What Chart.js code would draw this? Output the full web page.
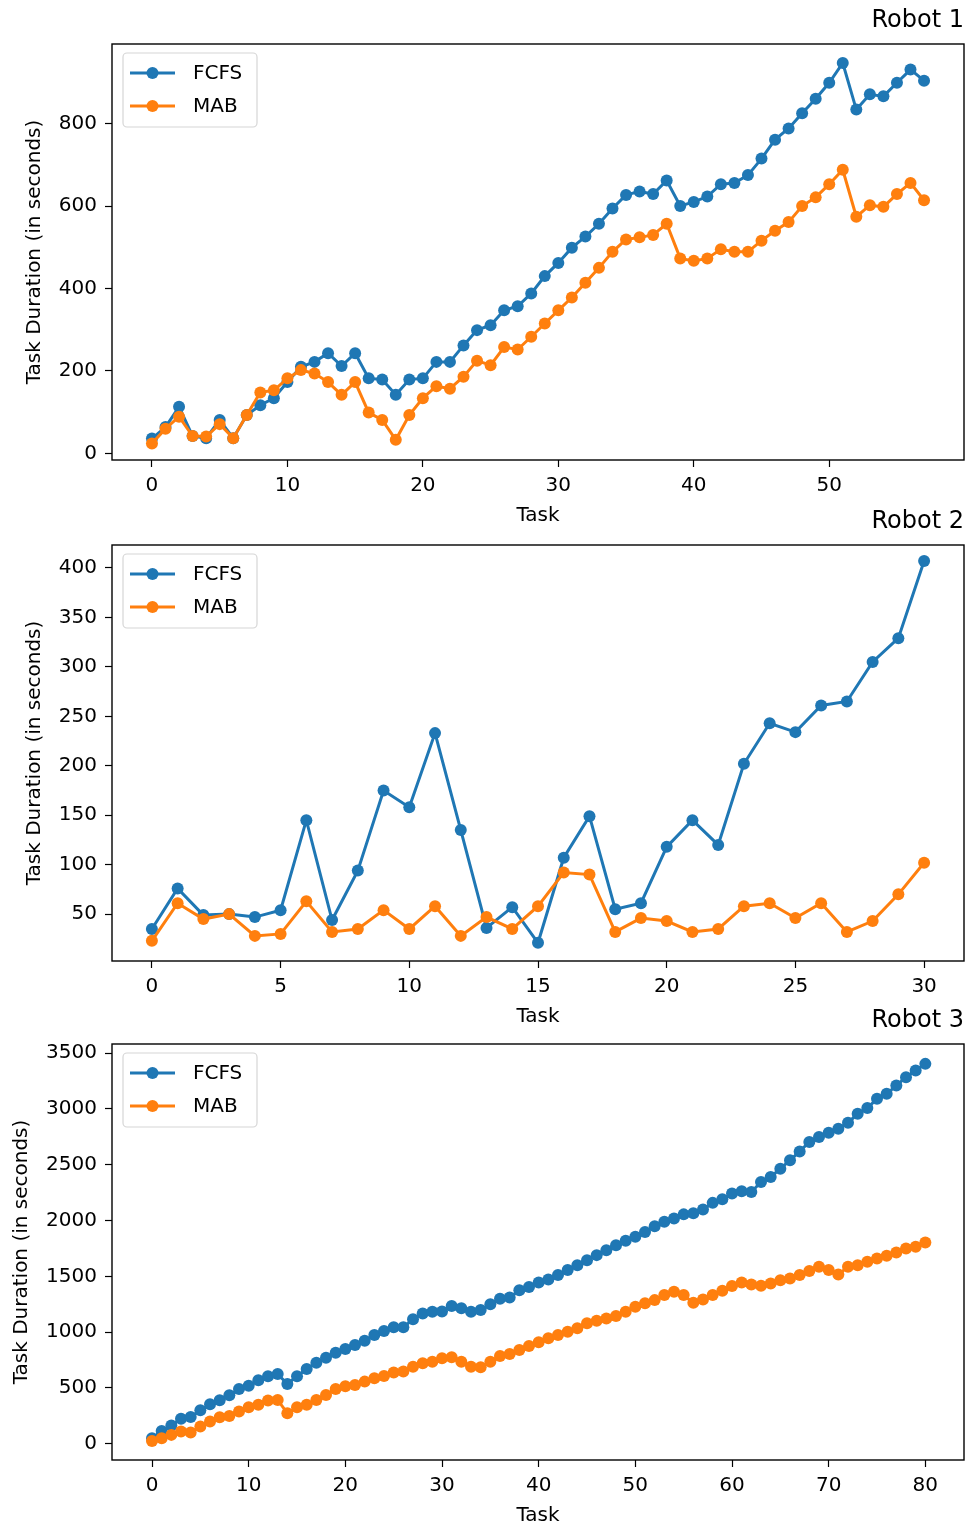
<!DOCTYPE html>
<html>
<head>
<meta charset="utf-8">
<script src="https://cdn.jsdelivr.net/npm/chart.js@4.4.0/dist/chart.umd.min.js"></script>
<style>
  html, body { margin:0; padding:0; background:#fff; }
  body { width:966px; height:1529px; position:relative; overflow:hidden; }
  canvas { position:absolute; left:0; }
</style>
</head>
<body>
<canvas id="robot1" width="966" height="535" style="top:0px"></canvas>
<canvas id="robot2" width="966" height="535" style="top:501px"></canvas>
<canvas id="robot3" width="966" height="535" style="top:1000px"></canvas>
<script>
// task durations (seconds), index = task number
const robot1Fcfs = [36, 64, 113, 42, 37, 81, 37, 93, 117, 134, 173, 210, 222, 243, 212, 243, 182, 179, 142, 179,
  182, 222, 222, 262, 299, 311, 347, 357, 388, 430, 462, 499, 526, 557, 594, 627, 635, 629, 662, 600,
  610, 623, 653, 656, 675, 715, 761, 788, 825, 860, 899, 947, 834, 871, 866, 899, 931, 904];
const robot1Mab = [24, 60, 89, 42, 41, 71, 37, 93, 148, 153, 182, 202, 194, 173, 142, 173, 99, 81, 33, 93,
  134, 163, 157, 186, 225, 214, 258, 252, 283, 315, 347, 378, 414, 450, 489, 519, 524, 530, 557, 473,
  467, 473, 495, 489, 489, 516, 540, 561, 600, 621, 653, 688, 574, 602, 598, 629, 656, 614];

const robot2Fcfs = [35, 76, 49, 50, 47, 54, 145, 44, 94, 175, 158, 233, 135, 36, 57, 21, 107, 149, 55, 61,
  118, 145, 120, 202, 243, 234, 261, 265, 305, 329, 407];
const robot2Mab = [23, 61, 45, 50, 28, 30, 63, 32, 35, 54, 35, 58, 28, 47, 35, 58, 92, 90, 32, 46,
  43, 32, 35, 58, 61, 46, 61, 32, 43, 70, 102];

const robot3Fcfs = [50, 115, 165, 225, 240, 300, 355, 390, 435, 490, 520, 570, 605, 625, 535, 605, 670, 725, 770, 815,
  850, 885, 924, 974, 1010, 1045, 1043, 1115, 1168, 1183, 1185, 1235, 1215, 1183, 1198, 1250, 1300, 1311, 1375, 1405,
  1445, 1472, 1511, 1556, 1600, 1645, 1690, 1734, 1779, 1818, 1854, 1898, 1949, 1988, 2017, 2055, 2065, 2098, 2158, 2190,
  2241, 2262, 2256, 2345, 2390, 2464, 2539, 2619, 2703, 2748, 2786, 2822, 2876, 2956, 3007, 3090, 3135, 3209, 3284, 3344,
  3403];
const robot3Mab = [25, 50, 80, 110, 101, 155, 200, 238, 250, 289, 328, 349, 387, 393, 274, 328, 349, 393, 438, 490,
  515, 527, 557, 587, 608, 638, 647, 691, 721, 736, 766, 775, 736, 691, 685, 736, 787, 805, 840, 876,
  910, 945, 974, 1004, 1034, 1079, 1103, 1123, 1144, 1183, 1228, 1258, 1287, 1332, 1362, 1332, 1263, 1293, 1332, 1371,
  1413, 1445, 1427, 1415, 1436, 1466, 1481, 1511, 1547, 1585, 1556, 1517, 1585, 1600, 1630, 1660, 1684, 1714, 1749, 1764,
  1803];

// tick labels
const robot1XTicks = [0, 10, 20, 30, 40, 50];
const robot1YTicks = [0, 200, 400, 600, 800];
const robot2XTicks = [0, 5, 10, 15, 20, 25, 30];
const robot2YTicks = [50, 100, 150, 200, 250, 300, 350, 400];
const robot3XTicks = [0, 10, 20, 30, 40, 50, 60, 70, 80];
const robot3YTicks = [0, 500, 1000, 1500, 2000, 2500, 3000, 3500];

const seriesNames = ['FCFS', 'MAB'];
const BLUE = '#1f77b4';
const ORANGE = '#ff7f0e';
const FONT = 'DejaVu Sans';

function toPoints(arr) {
  return arr.map((v, i) => ({ x: i, y: v }));
}

// matplotlib-style box around the axes
const framePlugin = {
  id: 'frame',
  afterDraw(chart) {
    const { ctx, chartArea: a } = chart;
    ctx.save();
    ctx.strokeStyle = '#000';
    ctx.lineWidth = 1.4;
    ctx.strokeRect(a.left, a.top, a.right - a.left, a.bottom - a.top);
    ctx.restore();
  }
};

// legend drawn inside the upper-left corner, like plt.legend()
const innerLegend = {
  id: 'innerLegend',
  afterDraw(chart) {
    const { ctx, chartArea: a } = chart;
    const colors = [BLUE, ORANGE];
    const bx = a.left + 11, by = a.top + 9, bw = 134, bh = 74, r = 4;
    ctx.save();
    ctx.beginPath();
    ctx.moveTo(bx + r, by);
    ctx.arcTo(bx + bw, by, bx + bw, by + bh, r);
    ctx.arcTo(bx + bw, by + bh, bx, by + bh, r);
    ctx.arcTo(bx, by + bh, bx, by, r);
    ctx.arcTo(bx, by, bx + bw, by, r);
    ctx.closePath();
    ctx.fillStyle = 'rgba(255,255,255,0.8)';
    ctx.fill();
    ctx.strokeStyle = '#d6d6d6';
    ctx.lineWidth = 1.2;
    ctx.stroke();
    seriesNames.forEach((name, i) => {
      const y = a.top + 29 + i * 33;
      ctx.strokeStyle = colors[i];
      ctx.lineWidth = 3;
      ctx.beginPath();
      ctx.moveTo(a.left + 18, y);
      ctx.lineTo(a.left + 63, y);
      ctx.stroke();
      ctx.fillStyle = colors[i];
      ctx.beginPath();
      ctx.arc(a.left + 40.5, y, 6, 0, Math.PI * 2);
      ctx.fill();
      ctx.fillStyle = '#000';
      ctx.font = '20px "' + FONT + '"';
      ctx.textBaseline = 'middle';
      ctx.textAlign = 'left';
      ctx.fillText(name, a.left + 81, y + 1);
    });
    ctx.restore();
  }
};

function axisCommon(tickValues) {
  return {
    grid: { display: true, drawOnChartArea: false, drawTicks: true, tickLength: 7, tickColor: '#000', tickWidth: 1.2 },
    border: { display: false },
    afterBuildTicks: s => { s.ticks = tickValues.map(v => ({ value: v })); }
  };
}

function drawRobot(id, title, fcfs, mab, xr, xTicks, yr, yTicks, yTitlePad) {
  const ctx = document.getElementById(id).getContext('2d');
  const line = (label, data, color, order) => ({
    label, data: toPoints(data), borderColor: color, backgroundColor: color,
    borderWidth: 3, pointRadius: 6, pointHoverRadius: 6, pointBorderWidth: 0,
    pointBackgroundColor: color, tension: 0, order
  });
  new Chart(ctx, {
    type: 'line',
    data: { datasets: [line(seriesNames[0], fcfs, BLUE, 1), line(seriesNames[1], mab, ORANGE, 0)] },
    options: {
      responsive: false, animation: false, devicePixelRatio: 1,
      layout: { autoPadding: false, padding: { left: 0, right: 2, top: 0, bottom: 5 } },
      plugins: {
        legend: { display: false },
        tooltip: { enabled: false },
        title: {
          display: true, text: title, align: 'end', color: '#000',
          font: { family: FONT, size: 24, weight: 'normal' },
          padding: { top: 6.6, bottom: 8.6 }
        }
      },
      scales: {
        x: Object.assign(axisCommon(xTicks), {
          type: 'linear', min: xr[0], max: xr[1],
          ticks: { color: '#000', padding: 7, maxRotation: 0, autoSkip: false,
                   font: { family: FONT, size: 20 }, callback: v => String(v) },
          title: { display: true, text: 'Task', color: '#000', font: { family: FONT, size: 20 },
                   padding: { top: 0, bottom: 2 } },
          afterFit: s => { s.height = 70; s.paddingLeft = 0; s.paddingRight = 0; }
        }),
        y: Object.assign(axisCommon(yTicks), {
          min: yr[0], max: yr[1],
          ticks: { color: '#000', padding: 8, autoSkip: false,
                   font: { family: FONT, size: 20 }, callback: v => String(v) },
          title: { display: true, text: 'Task Duration (in seconds)', color: '#000',
                   font: { family: FONT, size: 20 }, padding: { top: yTitlePad, bottom: 0 } },
          afterFit: s => { s.width = 112; }
        })
      }
    },
    plugins: [framePlugin, innerLegend]
  });
}

drawRobot('robot1', 'Robot 1', robot1Fcfs, robot1Mab, [-2.95, 59.95], robot1XTicks, [-16, 993], robot1YTicks, 23);
drawRobot('robot2', 'Robot 2', robot2Fcfs, robot2Mab, [-1.55, 31.55], robot2XTicks, [2.6, 423.2], robot2YTicks, 23);
drawRobot('robot3', 'Robot 3', robot3Fcfs, robot3Mab, [-4.14, 84.0], robot3XTicks, [-145, 3581], robot3YTicks, 10);
</script>
</body>
</html>
